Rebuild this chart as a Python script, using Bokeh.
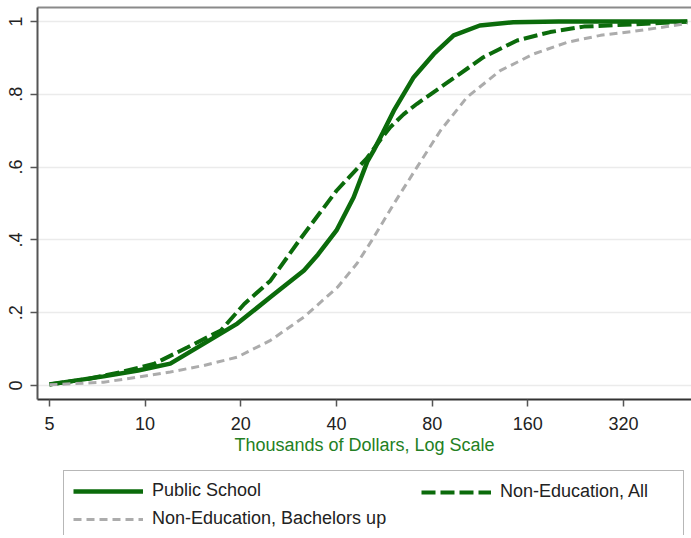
from bokeh.plotting import figure
from bokeh.layouts import column
from bokeh.models import (FixedTicker, Legend, LegendItem, LinearAxis, Range1d,
                          CustomJSTickFormatter, BasicTickFormatter)
from bokeh.embed import file_html
from bokeh.resources import INLINE

# ---- data ----
x_ticks = [5, 10, 20, 40, 80, 160, 320]
y_ticks = [0, 0.2, 0.4, 0.6, 0.8, 1.0]

public_x = [5, 6.1, 7.4, 9.5, 12, 15.3, 19.5, 24.8, 31.6, 35, 40, 45.3, 50, 52.4, 56,
            60.6, 70, 81, 93.5, 113, 144, 200, 300, 508]
public_y = [0.003, 0.014, 0.025, 0.041, 0.06, 0.115, 0.17, 0.243, 0.316, 0.36, 0.426,
            0.517, 0.615, 0.646, 0.695, 0.755, 0.847, 0.911, 0.962, 0.989, 0.998, 1.0,
            1.0, 1.0]

nonedu_x = [5, 6.6, 8.4, 10.7, 13.6, 17.3, 20.5, 24.8, 30.8, 40, 49.9, 55, 59.1, 65,
            71.7, 91.3, 116, 148, 188, 240, 344, 508]
nonedu_y = [0.003, 0.018, 0.037, 0.06, 0.105, 0.151, 0.224, 0.288, 0.403, 0.535, 0.625,
            0.675, 0.71, 0.745, 0.774, 0.838, 0.902, 0.948, 0.971, 0.986, 0.992, 1.0]

bach_x = [5, 7.4, 9.5, 12, 15.3, 19.5, 24.8, 31.6, 40.3, 46.4, 51.8, 60.6, 71.7, 84.9,
          103, 131, 167, 213, 271, 344, 438, 508]
bach_y = [0.002, 0.009, 0.023, 0.037, 0.055, 0.078, 0.124, 0.188, 0.27, 0.335, 0.4,
          0.499, 0.6, 0.70, 0.792, 0.865, 0.911, 0.943, 0.962, 0.973, 0.986, 0.995]

labels = ["Public School", "Non-Education, All", "Non-Education, Bachelors up"]
x_title = "Thousands of Dollars, Log Scale"

GREEN = "#0b6b0b"
GRAY = "#acacac"
FONT = "Liberation Sans"
styles = [dict(line_color=GREEN, line_width=4.5),
          dict(line_color=GREEN, line_width=4, line_dash="14 5"),
          dict(line_color=GRAY, line_width=3, line_dash="8 5")]
series = [(public_x, public_y), (nonedu_x, nonedu_y), (bach_x, bach_y)]

p = figure(frame_width=654, frame_height=392, x_axis_type="log",
           x_range=Range1d(4.585, 523.7), y_range=Range1d(-0.0385, 1.0385),
           output_backend="svg", toolbar_location=None,
           min_border_left=37, min_border_right=0, min_border_top=7,
           min_border_bottom=56)
p.outline_line_color = None
p.background_fill_color = "white"
p.border_fill_color = "white"

for (xs, ys), s in zip(series, styles):
    p.line(xs, ys, **s)

# x axis
xa = p.xaxis[0]
xa.ticker = FixedTicker(ticks=x_ticks)
xa.formatter = BasicTickFormatter()
xa.minor_tick_line_color = None
xa.major_tick_out = 7
xa.major_tick_in = 0
xa.major_tick_line_color = "#555555"
xa.major_tick_line_width = 1.5
xa.axis_line_color = "#333333"
xa.axis_line_width = 2
xa.major_label_text_font = FONT
xa.major_label_text_font_size = "18px"
xa.major_label_text_color = "#222222"
xa.major_label_standoff = 10
xa.axis_label = x_title
xa.axis_label_text_font = FONT
xa.axis_label_text_font_size = "18px"
xa.axis_label_text_font_style = "normal"
xa.axis_label_text_color = "#237f23"
xa.axis_label_standoff = 2

# y axis
ya = p.yaxis[0]
ya.ticker = FixedTicker(ticks=y_ticks)
ya.formatter = CustomJSTickFormatter(code="""
    if (tick <= 0) return "0";
    if (tick >= 1) return "1";
    return tick.toFixed(1).replace(/^0/, "");
""")
ya.minor_tick_line_color = None
ya.major_tick_out = 7
ya.major_tick_in = 0
ya.major_tick_line_color = "#555555"
ya.major_tick_line_width = 1.5
ya.axis_line_color = "#555555"
ya.axis_line_width = 2
ya.major_label_text_font = FONT
ya.major_label_text_font_size = "18px"
ya.major_label_text_color = "#222222"
ya.major_label_orientation = "vertical"
ya.major_label_standoff = 8

# top frame line
top = LinearAxis(ticker=FixedTicker(ticks=[]), axis_line_color="#8a8a8a",
                 axis_line_width=2, major_tick_line_color=None,
                 minor_tick_line_color=None, major_label_text_font_size="0px",
                 major_label_standoff=0)
p.add_layout(top, "above")

p.xgrid.grid_line_color = None
p.ygrid.ticker = FixedTicker(ticks=y_ticks)
p.ygrid.grid_line_color = "#ebebeb"
p.ygrid.grid_line_width = 1.5

# ---- legend strip below the chart ----
p2 = figure(width=691, height=78, output_backend="svg", toolbar_location=None,
            min_border_left=37, min_border_right=0, min_border_top=0,
            min_border_bottom=0, x_range=Range1d(0, 1), y_range=Range1d(0, 1))
p2.axis.visible = False
p2.grid.visible = False
p2.outline_line_color = None
p2.background_fill_color = "white"
p2.border_fill_color = "white"

# legend key renderers (their data lie outside this strip's range, so only keys show)
keys = [p2.line(xs, ys, **s) for (xs, ys), s in zip(series, styles)]


def make_legend(items, loc, lw):
    lg = Legend(items=items, location=loc, orientation="vertical")
    lg.label_text_font = FONT
    lg.label_text_font_size = "18px"
    lg.label_text_color = "#222222"
    lg.glyph_width = 70
    lg.glyph_height = 20
    lg.label_standoff = 9
    lg.label_width = lw
    lg.spacing = 7
    lg.padding = 9
    lg.margin = 0
    return lg

leg_a = make_legend([LegendItem(label=labels[0], renderers=[keys[0]]),
                     LegendItem(label=labels[2], renderers=[keys[2]])], (26, -4), 522)
leg_a.border_line_color = "#6f6f6f"
leg_a.border_line_width = 1.5
leg_a.background_fill_color = "white"
leg_b = make_legend([LegendItem(label=labels[1], renderers=[keys[1]])], (384, 33), 168)
leg_b.border_line_color = None
leg_b.background_fill_alpha = 0
p2.add_layout(leg_a)
p2.add_layout(leg_b)

open("out.html", "w").write(file_html(column(p, p2), INLINE))
